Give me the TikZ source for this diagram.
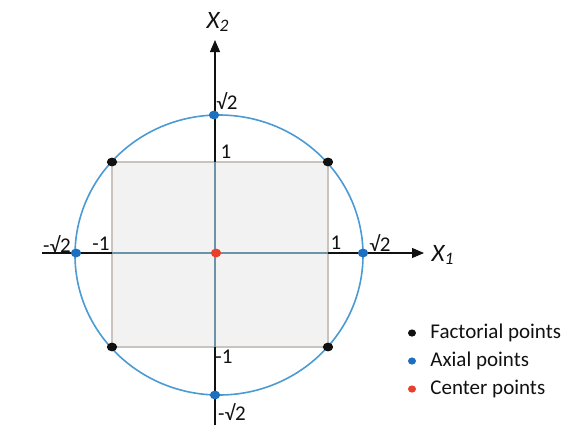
\documentclass[tikz,border=0pt]{standalone}
\usepackage{fontspec}
\setmainfont{Carlito}
\usetikzlibrary{arrows.meta,shapes.geometric}
\definecolor{ink}{HTML}{111111}
\definecolor{circ}{HTML}{4A9AD4}
\definecolor{axb}{HTML}{1F6FC0}
\definecolor{ctr}{HTML}{E8402A}
\definecolor{sqf}{HTML}{F2F2F2}
\definecolor{sqd}{HTML}{C9C4C0}
\definecolor{inax}{HTML}{6C93A8}
\tikzset{
  axis/.style={-{Triangle[length=6,width=5]},line width=0.6pt,ink},
  dotf/.style={ellipse,fill=ink,inner sep=0pt,minimum width=5.2,minimum height=4.4},
  dota/.style={dotf,fill=axb},
  dotc/.style={dotf,fill=ctr},
  keydot/.style={minimum width=4,minimum height=3.6},
  lab/.style={font=\fontsize{10.5}{12}\selectfont,text=ink,inner sep=1pt},
  axlab/.style={font=\fontsize{12.5}{14}\selectfont\itshape,text=ink,inner sep=1pt},
  leg/.style={font=\fontsize{10.5}{12}\selectfont,text=ink,anchor=west,inner sep=1pt}
}
\begin{document}
\begin{tikzpicture}[x=0.5pt,y=-0.5pt]
\useasboundingbox (0,0) rectangle (567,441);
% design region
\fill[sqf,draw=sqd,line width=0.6pt] (112,162) rectangle (328,347);
\draw[circ,line width=0.8pt] (219,255) ellipse [x radius=144,y radius=140];
% axes
\coordinate (xl) at (42,253);
\coordinate (xr) at (424,253);
\coordinate (yb) at (215,425);
\coordinate (yt) at (215,40);
\draw[axis] (xl) -- (xr);
\draw[axis] (yb) -- (yt);
\draw[inax,line width=0.6pt] (112,253) -- (328,253);
\draw[inax,line width=0.6pt] (215,162) -- (215,347);
\node[axlab] (x1) at (443,255) {X\textsubscript{1}};
\node[axlab] (x2) at (218,22) {X\textsubscript{2}};
% tick labels
\node[lab] (t1) at (226,152) {1};
\node[lab] (ts2) at (227,101) {√2};
\node[lab] (tm1) at (224,357) {-1};
\node[lab] (tms2) at (232,412) {-√2};
\node[lab] (l1) at (101,244) {-1};
\node[lab] (ls2) at (57,244) {-√2};
\node[lab] (r1) at (336,243) {1};
\node[lab] (rs2) at (380,243) {√2};
% points
\node[dotf] (f1) at (112,162) {};
\node[dotf] (f2) at (328,162) {};
\node[dotf] (f3) at (112,347) {};
\node[dotf] (f4) at (328,347) {};
\node[dota] (a1) at (214,115) {};
\node[dota] (a2) at (215,395) {};
\node[dota] (a3) at (76,253) {};
\node[dota] (a4) at (363,253) {};
\node[dotc] (c0) at (216,253) {};
% legend
\node[dotf,keydot] (kf) at (412,333) {};
\node[dota,keydot] (ka) at (412,361) {};
\node[dotc,keydot] (kc) at (412,389) {};
\node[leg] at (428,333) {Factorial points};
\node[leg] at (428,361) {Axial points};
\node[leg] at (428,389) {Center points};
\end{tikzpicture}
\end{document}
